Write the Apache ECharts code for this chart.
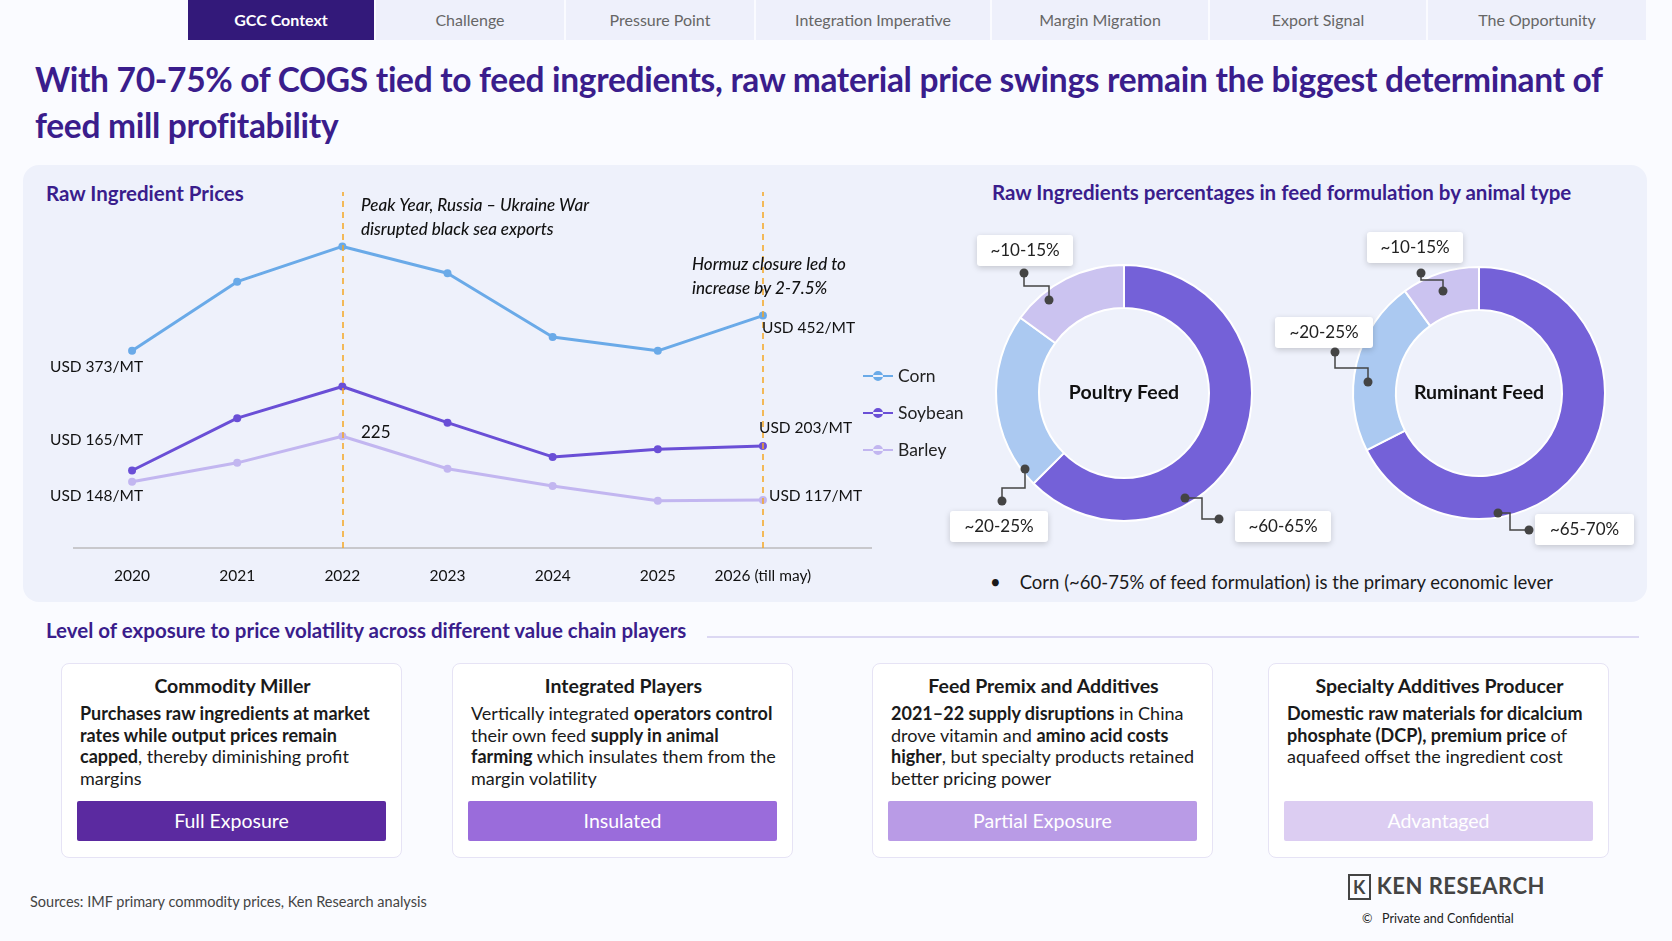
<!DOCTYPE html>
<html>
<head>
<meta charset="utf-8">
<script src="https://cdn.jsdelivr.net/npm/echarts@6/dist/echarts.min.js"></script>
<style>
  body { margin: 0; width: 1672px; height: 941px; background: #fafbff; font-family: Lato, "Noto Sans", sans-serif; position: relative; overflow: hidden; color: #1a1a1a; }
  .abs { position: absolute; }
  .tab { position: absolute; top: 0; height: 40px; line-height: 40px; text-align: center; background: #eef0fb; color: #666; font-size: 16px; }
  .tab.on { background: #33197a; color: #fff; font-weight: bold; }
  .title { left: 35px; top: 56px; font-size: 33.5px; font-weight: bold; color: #3a1d8c; line-height: 46px; width: 1625px; letter-spacing: -0.3px; }
  .panel { left: 23px; top: 165px; width: 1624px; height: 437px; background: #eef1fb; border-radius: 16px; }
  .h2 { font-size: 20.5px; font-weight: bold; color: #3a1d8c; }
  .card { position: absolute; top: 663px; height: 195px; background: #fff; border: 1px solid #e6e3f5; border-radius: 8px; box-sizing: border-box; padding: 10px 16px 10px 18px; }
  .card h3 { margin: 0 0 6px; text-align: center; font-size: 19.5px; }
  .card p { margin: 0; font-size: 18px; line-height: 21.7px; height: 88px; }
  .btn { position: absolute; left: 15px; right: 15px; bottom: 16px; height: 40px; line-height: 40px; text-align: center; color: #fff; font-size: 19.5px; border-radius: 2px; }
  #chart { position: absolute; left: 0; top: 0; width: 1672px; height: 941px; }
</style>
</head>
<body>
<div class="tab on" style="left:188px;width:186px">GCC Context</div>
<div class="tab" style="left:376px;width:188px">Challenge</div>
<div class="tab" style="left:566px;width:188px">Pressure Point</div>
<div class="tab" style="left:756px;width:234px">Integration Imperative</div>
<div class="tab" style="left:992px;width:216px">Margin Migration</div>
<div class="tab" style="left:1210px;width:216px">Export Signal</div>
<div class="tab" style="left:1428px;width:218px">The Opportunity</div>

<div class="abs title">With 70-75% of COGS tied to feed ingredients, raw material price swings remain the biggest determinant of feed mill profitability</div>

<div class="abs panel"></div>
<div class="abs h2" style="left:46px;top:181px">Raw Ingredient Prices</div>
<div class="abs h2" style="left:992px;top:180px">Raw Ingredients percentages in feed formulation by animal type</div>
<div class="abs" style="left:990px;top:571px;font-size:18.5px">•&nbsp;&nbsp;&nbsp; Corn (~60-75% of feed formulation) is the primary economic lever</div>

<div class="abs h2" style="left:46px;top:618px;font-size:20.5px">Level of exposure to price volatility across different value chain players</div>
<div class="abs" style="left:707px;top:636px;width:932px;height:2px;background:#dcd8f3"></div>

<div class="card" style="left:61px;width:341px">
  <h3>Commodity Miller</h3>
  <p><b>Purchases raw ingredients at market rates while output prices remain capped</b>, thereby diminishing profit margins</p>
  <div class="btn" style="background:#5b2aa0">Full Exposure</div>
</div>
<div class="card" style="left:452px;width:341px">
  <h3>Integrated Players</h3>
  <p>Vertically integrated <b>operators control</b> their own feed <b>supply in animal farming</b> which insulates them from the margin volatility</p>
  <div class="btn" style="background:#9a6cdb">Insulated</div>
</div>
<div class="card" style="left:872px;width:341px">
  <h3>Feed Premix and Additives</h3>
  <p><b>2021–22 supply disruptions</b> in China drove vitamin and <b>amino acid costs higher</b>, but specialty products retained better pricing power</p>
  <div class="btn" style="background:#b99be6">Partial Exposure</div>
</div>
<div class="card" style="left:1268px;width:341px">
  <h3>Specialty Additives Producer</h3>
  <p><b>Domestic raw materials for dicalcium phosphate (DCP), premium price</b> of aquafeed offset the ingredient cost</p>
  <div class="btn" style="background:#dccdf2">Advantaged</div>
</div>

<div class="abs" style="left:30px;top:893px;font-size:14.5px;color:#444">Sources: IMF primary commodity prices, Ken Research analysis</div>
<div class="abs" style="left:1348px;top:872px;font-size:22px;font-weight:bold;color:#444;letter-spacing:0.5px"><span style="border:2px solid #444;padding:0 3px;font-size:18px">K</span> KEN RESEARCH</div>
<div class="abs" style="left:1362px;top:911px;font-size:12.5px;color:#222">©&nbsp;&nbsp; Private and Confidential</div>

<div id="chart"></div>
<script>
// 数据
const years = ['2020', '2021', '2022', '2023', '2024', '2025', '2026 (till may)']
const corn = [373, 528, 607, 547, 404, 373, 452]
const soybean = [165, 246, 295, 239, 186, 198, 203]
const barley = [148, 180, 225, 170, 141, 116, 117]
const feedParts = ['Soybean', 'Corn', 'Barley']
const poultryShare = [62.5, 22.5, 15]
const ruminantShare = [67.5, 22.5, 10]

const lineColors = ['#6aaae8', '#6a4fd6', '#c2b6f0']
const pieColors = ['#7461d8', '#abc9f1', '#cbc3f0']

const chart = echarts.init(document.getElementById('chart'))

function callout(box, text, pts) {
  const last = pts[pts.length - 1]
  return [
    { type: 'rect', z: 100, shape: { x: box[0], y: box[1], width: box[2], height: 31, r: 3 },
      style: { fill: '#fff', shadowBlur: 6, shadowColor: 'rgba(0,0,0,0.18)', shadowOffsetY: 2 } },
    { type: 'text', z: 101, x: box[0] + box[2] / 2, y: box[1] + 16,
      style: { text: text, fill: '#222', font: '17px Lato', align: 'center', verticalAlign: 'middle' } },
    { type: 'polyline', z: 100, shape: { points: pts }, style: { stroke: '#444', lineWidth: 1.5, fill: null } },
    { type: 'circle', z: 101, shape: { cx: pts[0][0], cy: pts[0][1], r: 4.5 }, style: { fill: '#444' } },
    { type: 'circle', z: 101, shape: { cx: last[0], cy: last[1], r: 4.5 }, style: { fill: '#444' } }
  ]
}

function txt(x, y, t, extra) {
  return { type: 'text', z: 100, x: x, y: y, style: Object.assign({ text: t, fill: '#111', font: '15.5px Lato', verticalAlign: 'middle' }, extra || {}) }
}

const mkLine = {
  silent: true, symbol: 'none',
  lineStyle: { color: '#f5a623', type: [6, 5], width: 1.5 },
  label: { show: false },
  data: [{ xAxis: '2022' }, { xAxis: '2026 (till may)' }]
}

function lineSeries(name, data, idx) {
  return {
    name: name, type: 'line', data: data, yAxisIndex: idx,
    symbol: 'circle', symbolSize: 8,
    lineStyle: { width: 3, color: lineColors[idx] },
    itemStyle: { color: lineColors[idx] },
    markLine: idx === 0 ? mkLine : undefined
  }
}

function pieSeries(name, data, center, radius) {
  return {
    name: name, type: 'pie', center: center, radius: radius, startAngle: 90, clockwise: true,
    label: { show: true, position: 'center', formatter: name, fontSize: 19.5, fontWeight: 'bold', color: '#111', fontFamily: 'Lato' },
    labelLine: { show: false },
    emphasis: { disabled: true },
    itemStyle: { borderColor: '#fff', borderWidth: 2 },
    data: feedParts.map((p, i) => ({ name: p, value: data[i], itemStyle: { color: pieColors[i] },
      label: { show: i === 0 } }))
  }
}

chart.setOption({
  textStyle: { fontFamily: 'Lato' },
  grid: { left: 79.5, width: 736, top: 192, bottom: 941 - 548 },
  legend: {
    orient: 'vertical', left: 858, top: 362, itemGap: 19, itemWidth: 30, itemHeight: 10,
    icon: 'path://M0,4h30v2H0z M15,0a5,5 0 1,0 0.01,0z',
    textStyle: { fontSize: 17.5, color: '#222' },
    data: ['Corn', 'Soybean', 'Barley']
  },
  xAxis: {
    type: 'category', data: years, boundaryGap: true,
    axisLine: { show: false }, axisTick: { show: false },
    axisLabel: { fontSize: 15.5, color: '#111', margin: 20, interval: 0 }
  },
  yAxis: [
    { type: 'value', min: -69, max: 729, show: false },
    { type: 'value', min: 45, max: 596, show: false },
    { type: 'value', min: 36, max: 638, show: false }
  ],
  series: [
    lineSeries('Corn', corn, 0),
    lineSeries('Soybean', soybean, 1),
    lineSeries('Barley', barley, 2),
    pieSeries('Poultry Feed', poultryShare, [1124, 393], [85, 128]),
    pieSeries('Ruminant Feed', ruminantShare, [1479, 393], [83, 126])
  ],
  graphic: [
    { type: 'line', shape: { x1: 73, y1: 548, x2: 872, y2: 548 }, style: { stroke: '#c8c8cc', lineWidth: 2 } },
    txt(361, 206, 'Peak Year, Russia – Ukraine War', { font: 'italic 500 17px Lato' }),
    txt(361, 230, 'disrupted black sea exports', { font: 'italic 500 17px Lato' }),
    txt(692, 265, 'Hormuz closure led to', { font: 'italic 500 17px Lato' }),
    txt(692, 289, 'increase by 2-7.5%', { font: 'italic 500 17px Lato' }),
    txt(50, 367, 'USD 373/MT'),
    txt(50, 440, 'USD 165/MT'),
    txt(50, 496, 'USD 148/MT'),
    txt(762, 328, 'USD 452/MT'),
    txt(759, 428, 'USD 203/MT'),
    txt(769, 496, 'USD 117/MT'),
    txt(361, 433, '225', { font: '17px Lato' }),
    ...callout([977, 235, 96], '~10-15%', [[1024, 273], [1024, 286], [1049, 286], [1049, 300]]),
    ...callout([950, 511, 98], '~20-25%', [[1025, 469], [1025, 488], [1002, 488], [1002, 501]]),
    ...callout([1235, 511, 96], '~60-65%', [[1185, 498], [1202, 498], [1202, 519], [1219, 519]]),
    ...callout([1367, 232, 96], '~10-15%', [[1421, 273], [1421, 280], [1443, 280], [1443, 291]]),
    ...callout([1275, 317, 98], '~20-25%', [[1335, 352], [1335, 368], [1368, 368], [1368, 382]]),
    ...callout([1535, 514, 99], '~65-70%', [[1498, 513], [1510, 513], [1510, 530], [1529, 530]])
  ]
})
</script>
</body>
</html>
